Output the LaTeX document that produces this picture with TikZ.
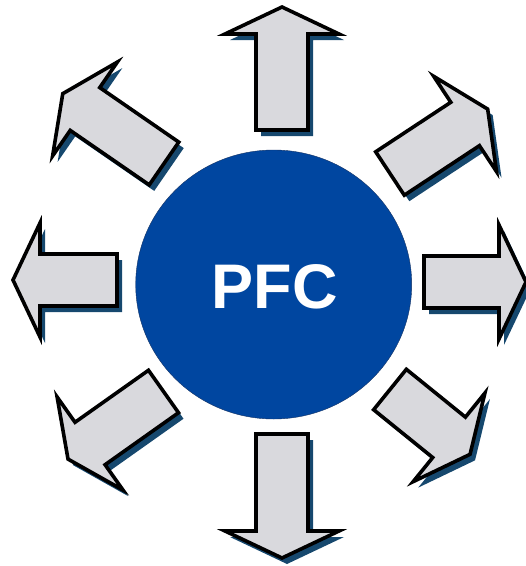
\documentclass[tikz,border=0pt]{standalone}
\usepackage{fontspec}
\newfontfamily\pfcfont{Liberation Sans}
\usetikzlibrary{shapes.geometric}
\definecolor{pfcblue}{RGB}{0,70,160}
\definecolor{pfcedge}{RGB}{20,50,100}
\definecolor{arrgray}{RGB}{217,217,221}
\definecolor{arrshade}{RGB}{22,72,110}
\tikzstyle{hub}=[ellipse,fill=pfcblue,draw=pfcedge,thin,minimum width=276pt,minimum height=269pt,inner sep=0pt]
\tikzstyle{arr}=[fill=arrgray,draw=black,line width=3.6pt,line join=miter]
\tikzstyle{arrshadow}=[fill=arrshade]
% base point x, base point y, angle, shaft length
\newcommand{\pfcarrow}[4]{%
\begin{scope}[shift={(#1+5,#2+6)},rotate=#3]
\fill[arrshadow] (0,-26) -- (#4,-26) -- (#4,-57) -- (#4+27,0) -- (#4,57) -- (#4,26) -- (0,26) -- cycle;
\end{scope}
\begin{scope}[shift={(#1,#2)},rotate=#3]
\filldraw[arr] (0,-26) -- (#4,-26) -- (#4,-57) -- (#4+27,0) -- (#4,57) -- (#4,26) -- (0,26) -- cycle;
\end{scope}}

\begin{document}
\begin{tikzpicture}[x=1pt,y=-1pt]
\useasboundingbox (0,0) rectangle (526,566);
\node[hub] (pfc) at (273.7,284.5) {};
\node[text=white,font=\pfcfont\bfseries\fontsize{63}{63}\selectfont] (pfclabel) at (274.5,287) {PFC};
\pfcarrow{282}{130}{90}{96}
\pfcarrow{282}{434}{-90}{97}
\pfcarrow{424}{282}{0}{75}
\pfcarrow{117}{280}{180}{77}
\pfcarrow{390}{173.5}{33.4}{90}
\pfcarrow{164}{163.5}{145.4}{96}
\pfcarrow{390}{389.5}{-39}{76}
\pfcarrow{163.5}{391.5}{-144.7}{90}
\end{tikzpicture}
\end{document}
